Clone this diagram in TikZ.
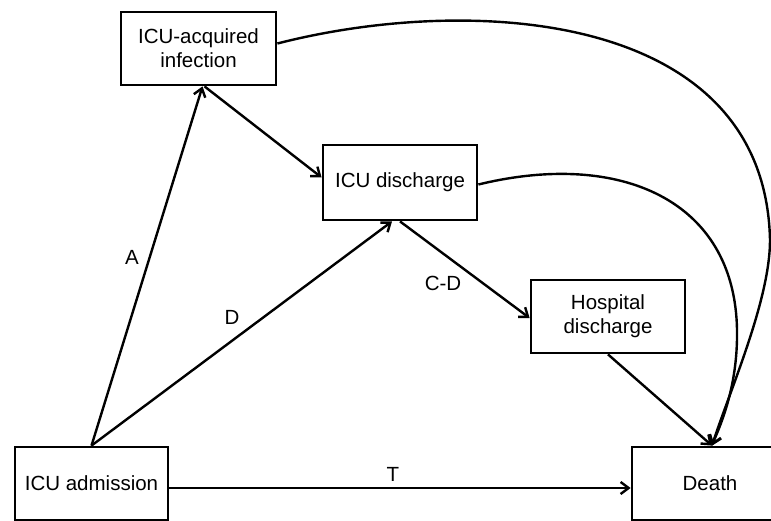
\documentclass[tikz,border=0pt]{standalone}
\usepackage{fontspec}
\setmainfont{Liberation Sans}
\usetikzlibrary{arrows.meta}
\begin{document}
\begin{tikzpicture}[x=1pt,y=-1pt,
  box/.style={draw, line width=2.8pt, inner sep=0pt, align=center,
    font=\fontsize{20.5}{24}\selectfont},
  lbl/.style={inner sep=0pt, font=\fontsize{20.5}{24}\selectfont},
  conn/.style={line width=2.4pt, -{Straight Barb[length=8pt,width=12pt]}}]
\clip (0,0) rectangle (771,521);
\fill[white] (0,0) rectangle (771,521);
\node[box, minimum width=155pt, minimum height=73pt] (inf) at (198.5,48.5) {ICU-acquired\\infection};
\node[box, minimum width=154pt, minimum height=75pt] (icud) at (400,182.5) {ICU discharge};
\node[box, minimum width=154pt, minimum height=73pt] (hosp) at (608,316.5) {Hospital\\discharge};
\node[box, minimum width=153pt, minimum height=73pt] (adm) at (91.5,483.5) {ICU admission};
\node[box, minimum width=156pt, minimum height=73pt] (death) at (710,483.5) {Death};
\draw[conn] (adm.north) -- ([xshift=4pt]inf.south);
\draw[conn] (adm.north) -- ([xshift=-8pt]icud.south);
\draw[conn] ([xshift=6pt]inf.south) -- ([yshift=5pt]icud.west);
\draw[conn] (icud.south) -- ([yshift=-1.5pt]hosp.west);
\draw[conn] (hosp.south) -- ([xshift=2pt]death.north);
\draw[conn] ([yshift=-4.5pt]adm.east) -- ([yshift=-4.5pt]death.west);
\draw[conn] ([yshift=5pt]inf.east) .. controls (470,-6) and (765,10) .. (770,240)
  .. controls (770,300) and (730,390) .. ([xshift=2pt]death.north);
\draw[conn] ([yshift=-2pt]icud.east) .. controls (620,150) and (735,200) .. (737,330)
  .. controls (738,390) and (718,430) .. ([xshift=2pt]death.north);
\node[lbl] (lA) at (132,257) {A};
\node[lbl] (lD) at (232,317) {D};
\node[lbl] (lCD) at (443,283) {C-D};
\node[lbl] (lT) at (393,474) {T};
\end{tikzpicture}
\end{document}
